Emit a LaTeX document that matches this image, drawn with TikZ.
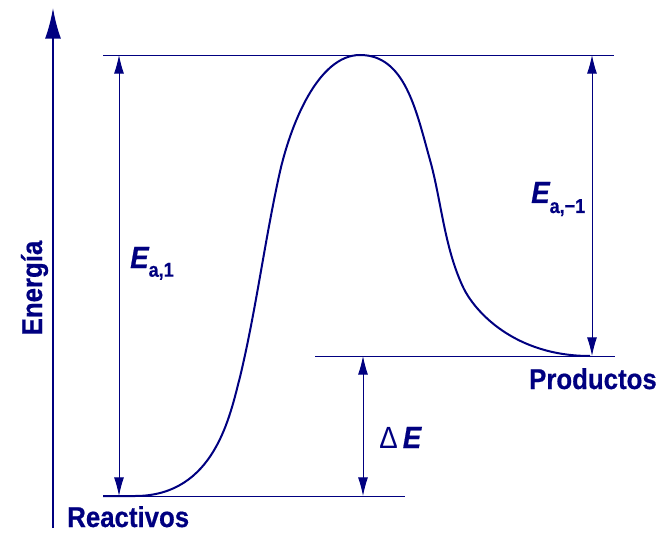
\documentclass[tikz,border=0pt]{standalone}
\usepackage{fontspec}
\setmainfont{Liberation Sans}
\newfontfamily\lblfont{Liberation Sans}[FakeStretch=0.9,BoldFeatures={FakeBold=0.6},BoldItalicFeatures={FakeBold=0.6}]
\usetikzlibrary{arrows.meta}
\definecolor{navy}{HTML}{000080}

\begin{document}
\begin{tikzpicture}[x=0.75pt,y=-0.75pt,
  level/.style={navy,line width=0.7pt},
  gap/.style={navy,line width=0.7pt,{Latex[length=14pt,width=7.5pt]}-{Latex[length=14pt,width=7.5pt]}},
  lbl/.style={text=navy,font=\lblfont\fontsize{21.5}{22}\selectfont\bfseries,inner sep=0pt},
  big/.style={text=navy,font=\lblfont\fontsize{23}{23}\selectfont\bfseries,inner sep=0pt}]
\useasboundingbox (0,0) rectangle (659,534);
% energy axis
\coordinate (ax-b) at (53,528); \coordinate (ax-t) at (53,8);
\draw[navy,line width=1.5pt,-{Latex[length=23pt,width=12pt]}] (ax-b) -- (ax-t);
\node[lbl,rotate=90,anchor=base] (energia) at (42,288) {Energía};
% levels
\coordinate (top-l) at (103,55); \coordinate (top-r) at (614,55);
\coordinate (reac) at (103,496); \coordinate (reac-r) at (405,496);
\coordinate (prod-l) at (315,356); \coordinate (prod-r) at (615,356);
\coordinate (prod) at (590,356); \coordinate (peak) at (360,55);
\draw[level] (top-l) -- (top-r);
\draw[level] (reac) -- (reac-r);
\draw[level] (prod-l) -- (prod-r);
% reaction path
\draw[navy,line width=1.5pt] (reac) -- (135,496)
  .. controls (215,496) and (230,415) .. (240,377)
  .. controls (256,310) and (264,245) .. (279,176)
  .. controls (290,125) and (318,55) .. (peak)
  .. controls (405,55) and (416,110) .. (430,160)
  .. controls (441.2,200) and (444.2,247) .. (463,287)
  .. controls (474.75,312) and (515,356) .. (prod);
% gaps
\coordinate (ea1-t) at (119,55); \coordinate (ea1-b) at (119,496);
\coordinate (ea2-t) at (592,55); \coordinate (ea2-b) at (592,356);
\coordinate (de-t) at (363,356); \coordinate (de-b) at (363,496);
\draw[gap] (ea1-t) -- (ea1-b);
\draw[gap] (ea2-t) -- (ea2-b);
\draw[gap] (de-t) -- (de-b);
% labels
\node[lbl,anchor=base west] (reactivos) at (67,527) {Reactivos};
\node[lbl,anchor=base east] (productos) at (657,389) {Productos};
\node[big,anchor=base west] (ea1) at (130,268) {\itshape E\fontsize{15}{15}\selectfont\upshape\raisebox{-6.5pt}{a,1}};
\node[big,anchor=base west] (ea2) at (531,203) {\itshape E\fontsize{15}{15}\selectfont\upshape\raisebox{-7.5pt}{a,−1}};
\node[big,anchor=base west] (de) at (379,448) {{\mdseries Δ}\,\itshape E};
\end{tikzpicture}
\end{document}
